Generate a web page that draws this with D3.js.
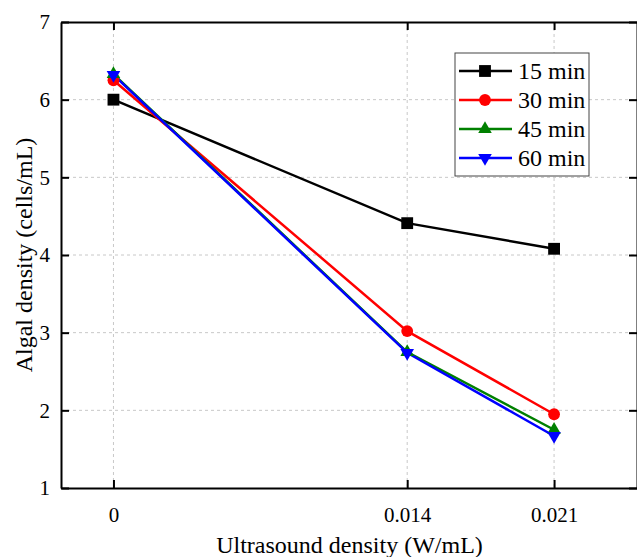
<!DOCTYPE html>
<html>
<head>
<meta charset="utf-8">
<script src="https://cdn.jsdelivr.net/npm/d3@7"></script>
<style>
  html, body { margin: 0; padding: 0; background: #fff; }
  svg { display: block; }
  svg text { font-family: 'Liberation Serif', 'Times New Roman', Times, 'DejaVu Serif', serif !important; fill: #000; }
</style>
</head>
<body>
<svg id="chart" width="637" height="557"></svg>
<script>
// Ultrasound density (W/mL) levels
const densities = [0, 0.014, 0.021];
// Algal density for each exposure time
const series15 = [6.00, 4.41, 4.08];
const series30 = [6.25, 3.02, 1.95];
const series45 = [6.33, 2.75, 1.75];
const series60 = [6.32, 2.74, 1.67];
const seriesNames = ["15 min", "30 min", "45 min", "60 min"];
const xTicks = [0, 0.014, 0.021];
const xTickLabels = ["0", "0.014", "0.021"];
const yTicks = [1, 2, 3, 4, 5, 6, 7];

const styles = [
  { color: "#000000", symbol: d3.symbolSquare, size: 140, rot: 0 },
  { color: "#ff0000", symbol: d3.symbolCircle, size: 110, rot: 0 },
  { color: "#008000", symbol: d3.symbolTriangle, size: 80, rot: 0 },
  { color: "#0000ff", symbol: d3.symbolTriangle, size: 80, rot: 180 }
];
const allSeries = [series15, series30, series45, series60];

const svg = d3.select("#chart");
const plotL = 61, plotR = 638, plotT = 22, plotB = 488;

const x = d3.scaleLinear().domain([-0.0025, 0.025]).range([plotL, plotR]);
const y = d3.scaleLinear().domain([1, 7]).range([plotB, plotT]);

// dashed grid
const grid = svg.append("g");
grid.selectAll("line.gy").data(yTicks.filter(v => v > 1 && v < 7)).join("line")
  .attr("class", "gy")
  .attr("x1", plotL).attr("x2", plotR)
  .attr("y1", d => y(d)).attr("y2", d => y(d))
  .attr("stroke", "#c8c8c8").attr("stroke-width", 1).attr("stroke-dasharray", "3,3");
grid.selectAll("line.gx").data(xTicks).join("line")
  .attr("class", "gx")
  .attr("y1", plotT).attr("y2", plotB)
  .attr("x1", d => x(d)).attr("x2", d => x(d))
  .attr("stroke", "#c8c8c8").attr("stroke-width", 1).attr("stroke-dasharray", "3,3");

// axes with inward ticks
const fmtX = (d) => xTickLabels[xTicks.indexOf(d)];
const xAxis = svg.append("g").attr("transform", `translate(0,${plotB})`)
  .call(d3.axisBottom(x).tickValues(xTicks).tickFormat(fmtX).tickSizeInner(-8).tickSizeOuter(0).tickPadding(19));
const xTop = svg.append("g").attr("transform", `translate(0,${plotT})`)
  .call(d3.axisTop(x).tickValues(xTicks).tickFormat("").tickSizeInner(-8).tickSizeOuter(0));
const yAxis = svg.append("g").attr("transform", `translate(${plotL},0)`)
  .call(d3.axisLeft(y).tickValues(yTicks).tickFormat(d3.format("d")).tickSizeInner(-8).tickSizeOuter(0).tickPadding(11));
const yRight = svg.append("g").attr("transform", `translate(${plotR - 1},0)`)
  .call(d3.axisRight(y).tickValues(yTicks).tickFormat("").tickSizeInner(-8).tickSizeOuter(0));

[xAxis, xTop, yAxis, yRight].forEach(g => {
  g.attr("font-family", null);
  g.select(".domain").attr("stroke", "#000").attr("stroke-width", 2);
  g.selectAll(".tick line").attr("stroke", "#000").attr("stroke-width", 2);
  g.selectAll(".tick text").attr("font-size", 21).attr("fill", "#000");
});

// lines and markers
const line = d3.line().x((d, i) => x(densities[i])).y(d => y(d));
allSeries.forEach((vals, s) => {
  const st = styles[s];
  svg.append("path").datum(vals).attr("d", line)
    .attr("fill", "none").attr("stroke", st.color).attr("stroke-width", 2.5);
});
allSeries.forEach((vals, s) => {
  const st = styles[s];
  const sym = d3.symbol().type(st.symbol).size(st.size);
  svg.append("g").selectAll("path").data(vals).join("path")
    .attr("d", sym)
    .attr("transform", (d, i) => `translate(${x(densities[i])},${y(d)}) rotate(${st.rot})`)
    .attr("fill", st.color);
});

// legend
const lg = svg.append("g").attr("transform", "translate(455,53)");
lg.append("rect").attr("x", 0).attr("y", 0).attr("width", 134).attr("height", 123)
  .attr("fill", "#fff").attr("stroke", "#444").attr("stroke-width", 1);
seriesNames.forEach((name, i) => {
  const st = styles[i];
  const cy = 18 + i * 29;
  lg.append("line").attr("x1", 4).attr("x2", 57).attr("y1", cy).attr("y2", cy)
    .attr("stroke", st.color).attr("stroke-width", 2.5);
  lg.append("path").attr("d", d3.symbol().type(st.symbol).size(st.size)())
    .attr("transform", `translate(30,${cy}) rotate(${st.rot})`).attr("fill", st.color);
  lg.append("text").attr("x", 63).attr("y", cy).attr("dy", "0.35em")
    .attr("font-size", 24).text(name);
});

// axis titles
svg.append("text").attr("x", (plotL + plotR) / 2).attr("y", 553)
  .attr("text-anchor", "middle").attr("font-size", 24).text("Ultrasound density (W/mL)");
svg.append("text").attr("transform", `translate(32,${(plotT + plotB) / 2}) rotate(-90)`)
  .attr("text-anchor", "middle").attr("font-size", 24).text("Algal density (cells/mL)");
</script>
</body>
</html>
